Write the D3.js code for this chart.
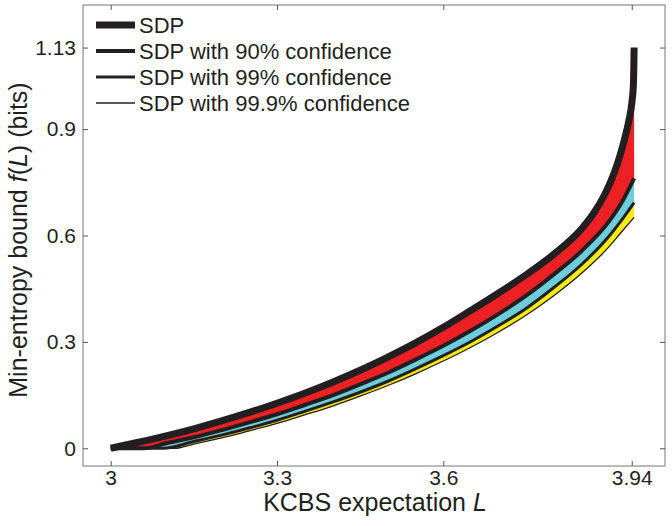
<!DOCTYPE html>
<html>
<head>
<meta charset="utf-8">
<script src="https://cdn.jsdelivr.net/npm/d3@7"></script>
<style>
  body { margin: 0; background: #fff; }
  text { font-family: "Liberation Sans", Arial, sans-serif; fill: #231f20; }
</style>
</head>
<body>
<div id="chart"></div>
<script>
// SDP bound f(L)
var sdpL = [3.0, 3.05, 3.1, 3.15, 3.2, 3.25, 3.3, 3.35, 3.4, 3.45, 3.5, 3.55, 3.6, 3.65, 3.7, 3.75,
            3.8, 3.85, 3.87, 3.89, 3.9, 3.913, 3.925, 3.935, 3.94, 3.943, 3.9443];
var sdpF = [0, 0.017, 0.035, 0.055, 0.077, 0.101, 0.127, 0.155, 0.186, 0.220, 0.257, 0.297, 0.341, 0.389, 0.438, 0.490,
            0.548, 0.620, 0.660, 0.712, 0.745, 0.797, 0.86, 0.925, 0.972, 1.025, 1.13];
// SDP with 90% confidence
var c90L = [3.0, 3.06, 3.1, 3.15, 3.2, 3.25, 3.3, 3.35, 3.4, 3.45, 3.5, 3.55, 3.6, 3.65, 3.7, 3.75,
            3.8, 3.85, 3.9, 3.92, 3.9443];
var c90F = [0, 0, 0.014, 0.031, 0.051, 0.073, 0.096, 0.122, 0.149, 0.180, 0.213, 0.250, 0.289, 0.332, 0.379, 0.431,
            0.491, 0.557, 0.642, 0.688, 0.761];
// SDP with 99% confidence
var c99L = [3.0, 3.095, 3.15, 3.2, 3.25, 3.3, 3.35, 3.4, 3.45, 3.5, 3.55, 3.6, 3.65, 3.7, 3.75,
            3.8, 3.85, 3.9, 3.92, 3.9443];
var c99F = [0, 0, 0.019, 0.037, 0.057, 0.079, 0.104, 0.130, 0.158, 0.189, 0.224, 0.261, 0.301, 0.346, 0.395,
            0.454, 0.519, 0.60, 0.64, 0.693];
// SDP with 99.9% confidence
var c999L = [3.0, 3.115, 3.15, 3.2, 3.25, 3.3, 3.35, 3.4, 3.45, 3.5, 3.55, 3.6, 3.65, 3.7, 3.75,
             3.8, 3.85, 3.9, 3.92, 3.9443];
var c999F = [0, 0, 0.012, 0.029, 0.049, 0.070, 0.094, 0.119, 0.147, 0.177, 0.210, 0.246, 0.285, 0.328, 0.376,
             0.431, 0.494, 0.57, 0.607, 0.651];

var legendLabels = ["SDP", "SDP with 90% confidence", "SDP with 99% confidence", "SDP with 99.9% confidence"];
var xTicks = [3, 3.3, 3.6, 3.94];
var xTickLabels = ["3", "3.3", "3.6", "3.94"];
var yTicks = [0, 0.3, 0.6, 0.9, 1.13];
var yTickLabels = ["0", "0.3", "0.6", "0.9", "1.13"];

var W = 672, H = 526;
var box = {left: 83, right: 665, top: 5, bottom: 466};

var svg = d3.select("#chart").append("svg")
    .attr("width", W)
    .attr("height", H);

var x = d3.scaleLinear().domain([2.95, 4.0]).range([box.left, box.right]);
var y = d3.scaleLinear().domain([-0.05, 1.25]).range([box.bottom, box.top]);

function pts(Ls, Fs) {
    return Ls.map((L, i) => ({L: L, f: Fs[i]}));
}
var series = [
    {data: pts(sdpL, sdpF),   width: 7},
    {data: pts(c90L, c90F),   width: 4},
    {data: pts(c99L, c99F),   width: 3},
    {data: pts(c999L, c999F), width: 1.3}
];
var bandColors = ["#ed2024", "#6dcddd", "#f5ea14"];

var line = d3.line().x(d => x(d.L)).y(d => y(d.f)).curve(d3.curveMonotoneX);

// filled band between two neighbouring curves: upper forwards, lower backwards
bandColors.forEach(function(col, i) {
    var upper = series[i].data, lower = series[i + 1].data.slice().reverse();
    var d = line(upper) + line(lower).replace(/^M/, "L") + "Z";
    svg.append("path").attr("d", d).attr("fill", col);
});

// curves, thinnest first so SDP sits on top
series.slice().reverse().forEach(function(s) {
    svg.append("path").datum(s.data)
        .attr("d", line)
        .attr("fill", "none")
        .attr("stroke", "#231f20")
        .attr("stroke-width", s.width)
        .attr("stroke-linejoin", "round");
});

// axes box and inward ticks
svg.append("rect")
    .attr("x", box.left).attr("y", box.top)
    .attr("width", box.right - box.left).attr("height", box.bottom - box.top)
    .attr("fill", "none").attr("stroke", "#777").attr("stroke-width", 1);

var xAxis = svg.append("g")
    .attr("transform", "translate(0," + box.bottom + ")")
    .call(d3.axisBottom(x).tickValues(xTicks).tickSizeInner(-5).tickSizeOuter(0).tickPadding(4)
        .tickFormat((d, i) => xTickLabels[i]));
var xTop = svg.append("g")
    .attr("transform", "translate(0," + box.top + ")")
    .call(d3.axisTop(x).tickValues(xTicks).tickSizeInner(-5).tickSizeOuter(0).tickFormat(""));
var yAxis = svg.append("g")
    .attr("transform", "translate(" + box.left + ",0)")
    .call(d3.axisLeft(y).tickValues(yTicks).tickSizeInner(-5).tickSizeOuter(0).tickPadding(7)
        .tickFormat((d, i) => yTickLabels[i]));
var yRight = svg.append("g")
    .attr("transform", "translate(" + box.right + ",0)")
    .call(d3.axisRight(y).tickValues(yTicks).tickSizeInner(-5).tickSizeOuter(0).tickFormat(""));

[xAxis, xTop, yAxis, yRight].forEach(function(g) {
    g.select(".domain").remove();
    g.selectAll(".tick line").attr("stroke", "#555");
    g.selectAll(".tick text")
        .style("font-family", "'Liberation Sans', Arial, sans-serif")
        .style("font-size", "21px")
        .attr("fill", "#231f20");
});

// axis titles
var xTitle = svg.append("text")
    .attr("x", 375)
    .attr("y", 511)
    .attr("text-anchor", "middle")
    .style("font-size", "25px");
xTitle.append("tspan").text("KCBS expectation ");
xTitle.append("tspan").style("font-style", "italic").text("L");

var yTitle = svg.append("text")
    .attr("transform", "translate(27,240) rotate(-90)")
    .attr("text-anchor", "middle")
    .style("font-size", "25px");
yTitle.append("tspan").text("Min-entropy bound ");
yTitle.append("tspan").style("font-style", "italic").text("f");
yTitle.append("tspan").text("(");
yTitle.append("tspan").style("font-style", "italic").text("L");
yTitle.append("tspan").text(") (bits)");

// legend
var legend = svg.append("g");
legendLabels.forEach(function(label, i) {
    var ly = 25 + i * 26;
    legend.append("line")
        .attr("x1", 96).attr("x2", 135)
        .attr("y1", ly).attr("y2", ly)
        .attr("stroke", "#231f20")
        .attr("stroke-width", series[i].width);
    legend.append("text")
        .attr("x", 139).attr("y", ly + 7.5)
        .style("font-size", "22px")
        .text(label);
});
</script>
</body>
</html>
